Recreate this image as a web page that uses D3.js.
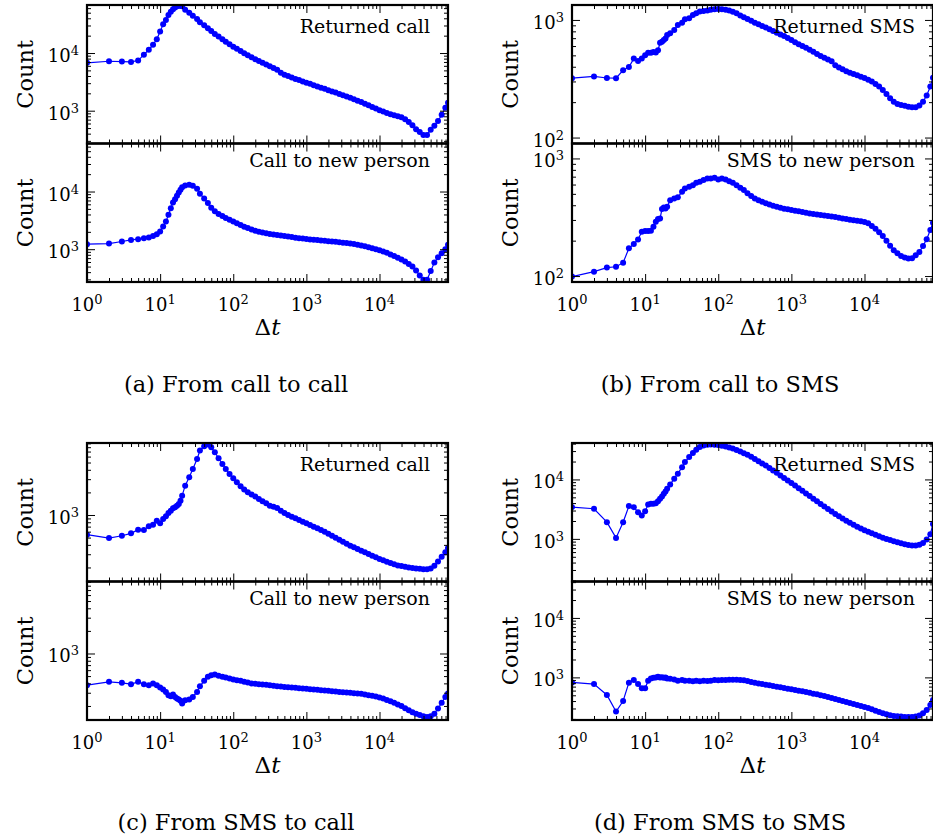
<!DOCTYPE html>
<html>
<head>
<meta charset="utf-8">
<script src="https://cdn.jsdelivr.net/npm/d3@7"></script>
<style>
  body { margin: 0; background: #fff; }
  svg { display: block; font-family: "DejaVu Serif", serif; }
</style>
</head>
<body>
<div id="wrapper"></div>
<script>
// time between events (shared binning)
const dt = [1,2,3,4,5,6,7,8,9,10,11,12,13,14,15,16,17,18,19,
  20,22,25,28,32,35,40,45,50,56,63,71,79,89,
  100,112,126,141,158,178,200,224,251,282,316,355,398,447,501,562,631,708,794,891,
  1000,1122,1259,1413,1585,1778,1995,2239,2512,2818,3162,3548,3981,4467,5012,5623,6310,7079,7943,8913,
  10000,11220,12589,14125,15849,17783,19953,22387,25119,28184,31623,35481,39811,44668,50119,56234,63096,70795,79433,86400];

// (a) call -> call
const callCallReturned = [6750,7200,7100,7000,7400,9350,11400,13900,17400,23500,31400,37200,45400,51800,57500,61700,64600,66100,66100,
  64600,56200,50100,44200,38900,34300,30200,26900,24000,21400,19300,17400,15700,14200,
  12900,11800,10800,9950,9120,8410,7760,7240,6760,6310,5890,5500,5130,4570,4220,3980,3760,3560,3390,3220,
  3060,2920,2770,2640,2510,2390,2270,2160,2060,1950,1850,1760,1670,1580,1490,1410,1320,1240,1160,1090,
  1020,966,912,871,832,804,767,708,638,562,479,427,380,380,468,550,661,851,1122,1380];
const callCallNew = [1220,1250,1360,1450,1490,1550,1590,1700,1820,2020,2470,3020,3940,5140,6440,7360,8410,9620,10700,
  11900,12700,13100,12600,11200,9120,7590,6310,5250,4570,4070,3760,3470,3240,
  3020,2820,2630,2450,2320,2190,2090,2000,1950,1890,1840,1800,1760,1720,1690,1660,1620,1580,1550,1530,
  1500,1480,1460,1450,1420,1400,1380,1360,1340,1320,1300,1280,1260,1230,1200,1160,1120,1080,1040,995,
  955,912,871,813,759,708,661,610,556,501,427,351,295,295,417,589,724,851,1000,1190];

// (b) call -> SMS
const callSmsReturned = [320,331,321,320,373,398,469,448,469,501,525,525,535,528,553,640,652,675,697,
  743,769,820,906,948,1014,1033,1104,1140,1178,1194,1202,1219,1233,
  1242,1233,1219,1202,1172,1140,1089,1054,1021,984,948,918,889,861,832,805,778,753,729,701,
  675,647,622,600,579,557,536,514,494,476,460,446,411,395,380,367,356,347,338,329,
  321,310,300,286,272,254,235,216,202,193,189,186,183,181,181,187,202,228,272,323];
const callSmsNew = [99,109,118,120,130,172,187,205,238,241,241,243,262,290,305,309,371,383,376,
  388,442,457,467,521,556,574,593,621,634,655,676,676,685,
  663,676,663,641,621,593,564,538,505,479,457,442,429,415,406,396,388,381,374,369,
  364,359,355,350,345,341,337,334,330,328,324,321,317,313,309,305,301,298,295,292,
  288,281,266,252,236,219,200,181,166,156,148,144,141,142,150,160,180,206,246,284];

// (c) SMS -> call
const smsCallReturned = [547,493,529,570,637,631,706,743,840,774,885,959,1064,1142,1227,1265,1331,1402,1552,
  1811,2460,3177,4100,5580,7210,8240,8670,7980,6850,5700,4790,4100,3520,
  3080,2730,2410,2180,2010,1870,1760,1630,1520,1430,1330,1290,1240,1140,1060,1000,950,903,858,815,
  774,735,699,664,631,600,564,530,499,469,441,415,390,371,352,334,318,302,287,273,
  259,249,239,229,220,213,209,205,200,196,194,192,190,190,194,211,241,278,318,363];
const smsCallNew = [378,419,406,390,419,390,378,398,378,352,331,308,278,270,284,264,251,244,234,
  215,239,244,264,308,366,432,489,514,525,504,489,479,464,
  450,441,432,419,410,398,394,390,386,382,378,371,366,363,359,356,352,349,345,341,
  338,334,331,328,324,321,318,315,311,308,305,302,299,296,293,290,284,278,273,267,
  259,251,241,231,220,209,199,187,175,165,157,151,146,143,146,158,185,220,264,293];

// (d) SMS -> SMS
const smsSmsReturned = [3420,3210,1910,1040,1910,3560,3420,2810,2470,2930,3790,3890,3890,3990,4310,4720,5170,5730,6280,
  6970,8240,10300,12500,16100,19600,23800,27800,31600,35100,37200,38200,38500,38400,
  37800,37000,35900,34500,33000,31300,29500,27700,25900,24000,22100,20300,18600,17100,15600,14200,12900,11700,10600,9590,
  8710,7870,7110,6430,5810,5250,4740,4290,3870,3510,3180,2880,2630,2400,2200,2020,1860,1730,1600,1500,
  1400,1320,1240,1170,1110,1050,1000,955,912,875,841,813,791,776,773,794,851,977,1200,1780];
const smsSmsNew = [824,773,506,266,401,815,902,773,655,655,880,962,987,1000,1026,1000,1010,987,1000,
  962,950,925,880,902,880,880,857,880,857,880,868,880,902,
  891,902,902,914,914,914,902,891,868,835,815,793,773,753,734,716,698,680,662,646,
  630,614,598,582,568,553,532,519,499,486,468,451,434,417,401,386,372,357,344,331,
  318,306,291,276,262,249,240,231,225,222,219,216,216,216,219,228,249,284,344,417];

const xTickExps = [0, 1, 2, 3, 4];

const panels = [
  {caption: "(a) From call to call", col: 0, row: 0, yDomain: [270, 68000],
   series: [{label: "Returned call", counts: callCallReturned}, {label: "Call to new person", counts: callCallNew}]},
  {caption: "(b) From call to SMS", col: 1, row: 0, yDomain: [89, 1340],
   series: [{label: "Returned SMS", counts: callSmsReturned}, {label: "SMS to new person", counts: callSmsNew}]},
  {caption: "(c) From SMS to call", col: 0, row: 1, yDomain: [130, 9100],
   series: [{label: "Returned call", counts: smsCallReturned}, {label: "Call to new person", counts: smsCallNew}]},
  {caption: "(d) From SMS to SMS", col: 1, row: 1, yDomain: [192, 41000],
   series: [{label: "Returned SMS", counts: smsSmsReturned}, {label: "SMS to new person", counts: smsSmsNew}]}
];

const W = 933, H = 839;
const colLeft = [87, 572], plotW = 361;
const rowTop = [5, 443], subH = 138.5;
const captionX = [236, 720];
const blue = "#0000ff";

const svg = d3.select("#wrapper").append("svg")
    .attr("width", W)
    .attr("height", H);
svg.append("rect").attr("width", W).attr("height", H).attr("fill", "#fff");

const x = d3.scaleLog().domain([1, 86400]).range([0, plotW]);

function logTicks(lo, hi) {
    var major = [], minor = [];
    for (let k = Math.floor(Math.log10(lo)); k <= Math.ceil(Math.log10(hi)); k++) {
        for (let m = 1; m < 10; m++) {
            var v = m * Math.pow(10, k);
            if (v < lo * 0.999 || v > hi * 1.001) continue;
            if (m == 1) major.push(v); else minor.push(v);
        }
    }
    return {major, minor};
}

function powLabel(text, exp) {
    text.append("tspan").text("10");
    text.append("tspan").attr("dy", -7).attr("font-size", 13).text(exp);
}

const xt = logTicks(1, 86400);
let clipId = 0;

panels.forEach(p => {
    const left = colLeft[p.col];
    const y = d3.scaleLog().domain(p.yDomain).range([subH, 0]);
    const yt = logTicks(p.yDomain[0], p.yDomain[1]);

    p.series.forEach((s, si) => {
        const top = rowTop[p.row] + si * subH;
        const g = svg.append("g").attr("transform", `translate(${left},${top})`);
        const cid = "clip" + (clipId++);
        g.append("clipPath").attr("id", cid)
            .append("rect").attr("width", plotW).attr("height", subH);

        const data = dt.map((t, i) => [t, s.counts[i]]);
        const plot = g.append("g").attr("clip-path", `url(#${cid})`);
        plot.append("path")
            .datum(data)
            .attr("fill", "none")
            .attr("stroke", blue)
            .attr("stroke-width", 1.2)
            .attr("d", d3.line().x(d => x(d[0])).y(d => y(d[1])));
        plot.selectAll("circle")
            .data(data)
            .enter()
            .append("circle")
            .attr("cx", d => x(d[0]))
            .attr("cy", d => y(d[1]))
            .attr("r", 3)
            .attr("fill", blue);

        // inward ticks on all four sides
        [[yt.major, 8], [yt.minor, 4]].forEach(([vals, len]) => {
            g.append("g").call(d3.axisLeft(y).tickValues(vals).tickSize(-len).tickFormat(""));
            g.append("g").attr("transform", `translate(${plotW},0)`)
                .call(d3.axisRight(y).tickValues(vals).tickSize(-len).tickFormat(""));
        });
        [[xt.major, 8], [xt.minor, 4]].forEach(([vals, len]) => {
            g.append("g").attr("transform", `translate(0,${subH})`)
                .call(d3.axisBottom(x).tickValues(vals).tickSize(-len).tickFormat(""));
            g.append("g").call(d3.axisTop(x).tickValues(vals).tickSize(-len).tickFormat(""));
        });
        g.selectAll(".domain").remove();
        g.selectAll(".tick line").attr("stroke", "#000").attr("stroke-width", 1);

        g.append("rect")
            .attr("width", plotW).attr("height", subH)
            .attr("fill", "none").attr("stroke", "#000").attr("stroke-width", 2.2);

        // y tick labels
        yt.major.forEach(v => {
            const t = g.append("text")
                .attr("x", -8)
                .attr("y", y(v) + 9)
                .attr("text-anchor", "end")
                .attr("font-size", 18);
            powLabel(t, Math.round(Math.log10(v)));
        });

        g.append("text")
            .attr("transform", `translate(-54,${subH / 2}) rotate(-90)`)
            .attr("text-anchor", "middle")
            .attr("font-size", 22.5)
            .text("Count");

        g.append("text")
            .attr("x", plotW - 18)
            .attr("y", si == 0 ? 28 : 23.5)
            .attr("text-anchor", "end")
            .attr("font-size", 19)
            .text(s.label);

        if (si == 1) {
            xTickExps.forEach(e => {
                const t = g.append("text")
                    .attr("x", x(Math.pow(10, e)))
                    .attr("y", subH + 28.5)
                    .attr("text-anchor", "middle")
                    .attr("font-size", 18);
                powLabel(t, e);
            });
            const lab = g.append("text")
                .attr("x", plotW / 2)
                .attr("y", subH + 53)
                .attr("text-anchor", "middle")
                .attr("font-size", 23);
            lab.append("tspan").text("Δ");
            lab.append("tspan").attr("font-style", "italic").text("t");
        }
    });

    svg.append("text")
        .attr("x", captionX[p.col])
        .attr("y", rowTop[p.row] + 2 * subH + 110)
        .attr("text-anchor", "middle")
        .attr("font-size", 22.5)
        .text(p.caption);
});
</script>
</body>
</html>
